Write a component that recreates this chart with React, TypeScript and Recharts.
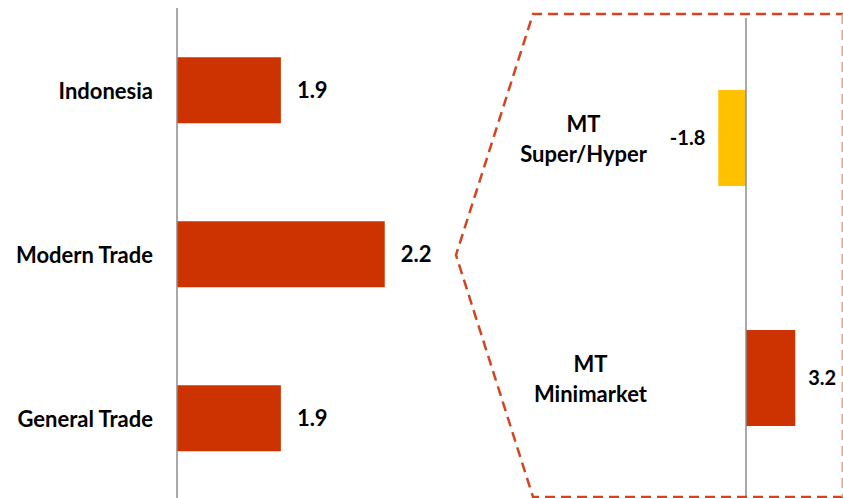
import { BarChart, Bar, XAxis, YAxis, Cell, LabelList, ReferenceLine } from 'recharts'

const mainCategories = ['Indonesia', 'Modern Trade', 'General Trade']
const mainValues = [1.9, 2.2, 1.9]

const mtCategories = ['MT Super/Hyper', 'MT Minimarket']
const mtValues = [-1.8, 3.2]
const mtColors = ['#FFC000', '#CC3300']

const RED = '#CC3300'
const FONT = 'Lato, "Open Sans", sans-serif'

const mainData = mainCategories.map((name, i) => ({ name, value: mainValues[i] }))
const mtData = mtCategories.map((name, i) => ({ name, value: mtValues[i] }))

let ctx: CanvasRenderingContext2D | null = null
function textWidth(s: string) {
  if (!ctx) ctx = document.createElement('canvas').getContext('2d')
  if (!ctx) return s.length * 11
  ctx.font = `700 22px ${FONT}`
  return ctx.measureText(s).width
}

function MainTick({ x, y, payload }: any) {
  return (
    <text x={x} y={y} textAnchor="end" dominantBaseline="central"
      fontFamily={FONT} fontWeight={700} fontSize={22} fill="#000">
      {payload.value}
    </text>
  )
}

// two-line label, lines centred, block right-aligned on the axis
function MtTick({ x, y, payload }: any) {
  const s: string = payload.value
  const k = s.indexOf(' ')
  const lines = [s.slice(0, k), s.slice(k + 1)]
  const w = Math.max(...lines.map(textWidth))
  const cx = x - w / 2
  return (
    <g>
      {lines.map((l, i) => (
        <text key={i} x={cx} y={y + (i === 0 ? -15 : 15)} textAnchor="middle" dominantBaseline="central"
          fontFamily={FONT} fontWeight={700} fontSize={22} fill="#000">
          {l}
        </text>
      ))}
    </g>
  )
}

export default function App() {
  return (
    <div style={{ position: 'absolute', left: 0, top: 0, width: 843, height: 498, overflow: 'hidden', background: '#fff' }}>
      <div style={{ position: 'absolute', left: 0, top: 0 }}>
        <BarChart width={454} height={502} data={mainData} layout="vertical"
          margin={{ top: 8, right: 0, bottom: 2, left: 0 }} barCategoryGap="30%">
          <XAxis type="number" domain={[1.6, 2.4]} hide allowDataOverflow />
          <YAxis type="category" dataKey="name" width={177} tickLine={false} tickSize={0} tickMargin={24}
            axisLine={{ stroke: '#8c8c8c', strokeWidth: 1.5 }} tick={<MainTick />} />
          <Bar dataKey="value" fill={RED} isAnimationActive={false}>
            <LabelList dataKey="value" position="right" offset={16}
              style={{ fontFamily: FONT, fontWeight: 700, fontSize: 22, fill: '#000' }} />
          </Bar>
        </BarChart>
      </div>
      <div style={{ position: 'absolute', left: 456, top: 0 }}>
        <BarChart width={387} height={498} data={mtData} layout="vertical"
          margin={{ top: 18, right: 0, bottom: 0, left: 0 }} barCategoryGap="30%">
          <XAxis type="number" domain={[-6.3, 6.3]} hide />
          <YAxis type="category" dataKey="name" width={193} tickLine={false} tickSize={0} tickMargin={2}
            axisLine={false} tick={<MtTick />} />
          <ReferenceLine x={0} stroke="#8c8c8c" strokeWidth={1.5} />
          <Bar dataKey="value" isAnimationActive={false}>
            {mtData.map((_, i) => (
              <Cell key={i} fill={mtColors[i]} />
            ))}
            <LabelList dataKey="value" position="right" offset={13}
              style={{ fontFamily: FONT, fontWeight: 700, fontSize: 20, fill: '#000' }} />
          </Bar>
        </BarChart>
      </div>
      <svg width={843} height={498} style={{ position: 'absolute', left: 0, top: 0, pointerEvents: 'none' }}>
        <polyline points="843,497 533,497 456,255 533,14 843,14"
          fill="none" stroke="#D2451E" strokeWidth={2.5} strokeDasharray="10 6" />
        <line x1={842.5} y1={14} x2={842.5} y2={497}
          stroke="#EBA085" strokeWidth={2} strokeDasharray="10 6" />
      </svg>
    </div>
  )
}
